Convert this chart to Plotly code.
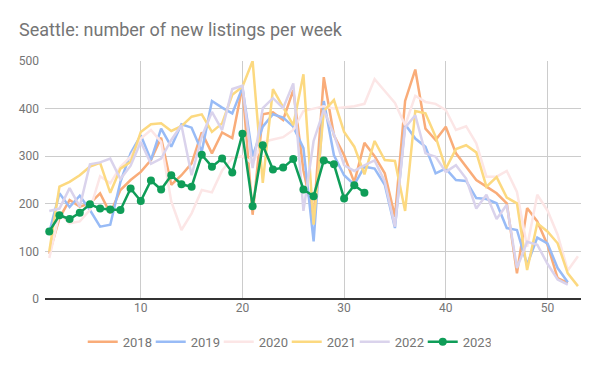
import plotly.graph_objects as go

weeks = list(range(1, 54))

y2018 = [95, 170, 208, 194, 201, 222, 180, 229, 250, 267, 292, 339, 240, 260, 285, 350,
         306, 350, 338, 446, 177, 388, 392, 376, 439, 270, 170, 466, 344, 302, 245, 328,
         300, 264, 173, 416, 482, 358, 334, 362, 306, 278, 250, 236, 222, 201, 54, 191,
         163, 114, 44, 34]
y2019 = [140, 222, 193, 217, 187, 152, 156, 246, 306, 344, 292, 358, 320, 367, 360, 310,
         416, 402, 390, 444, 300, 362, 388, 381, 362, 317, 121, 416, 302, 260, 240, 278,
         274, 240, 149, 367, 337, 320, 264, 274, 250, 248, 212, 210, 201, 149, 145, 72,
         129, 117, 65, 35]
y2020 = [86, 180, 159, 163, 187, 258, 243, 278, 299, 337, 355, 330, 205, 145, 180, 229,
         224, 270, 296, 300, 285, 330, 335, 340, 355, 395, 400, 405, 400, 402, 405, 410,
         462, 437, 412, 365, 427, 414, 410, 397, 355, 363, 327, 257, 257, 269, 225, 110,
         219, 186, 135, 60, 90]
y2021 = [100, 236, 246, 260, 278, 286, 223, 274, 288, 351, 367, 369, 353, 363, 383, 388,
         351, 369, 429, 446, 500, 244, 441, 404, 365, 472, 156, 395, 418, 351, 320, 262,
         332, 292, 290, 185, 395, 390, 341, 274, 315, 323, 308, 236, 256, 213, 201, 61,
         159, 142, 117, 54, 27]
y2022 = [185, 190, 233, 194, 283, 287, 295, 252, 280, 330, 284, 295, 334, 365, 260, 341,
         393, 355, 441, 448, 275, 401, 422, 401, 453, 185, 332, 397, 346, 281, 269, 281,
         291, 247, 152, 360, 386, 306, 299, 267, 281, 253, 190, 219, 168, 198, 65, 120,
         114, 74, 41, 30]
y2023 = [142, 176, 168, 181, 199, 190, 188, 187, 232, 206, 249, 230, 260, 241, 236, 303,
         278, 295, 266, 347, 195, 323, 272, 276, 294, 230, 216, 291, 283, 211, 239, 223]

series = [
    ("2018", y2018, "#F9AC79"),
    ("2019", y2019, "#98BBF6"),
    ("2020", y2020, "#FCE6E6"),
    ("2021", y2021, "#FCD980"),
    ("2022", y2022, "#DAD3EC"),
]

fig = go.Figure()
for name, vals, col in series:
    fig.add_trace(go.Scatter(
        x=weeks[:len(vals)], y=vals, name=name, mode="lines",
        line=dict(color=col, width=2.5),
    ))
fig.add_trace(go.Scatter(
    x=weeks[:len(y2023)], y=y2023, name="2023", mode="lines+markers",
    line=dict(color="#0F9D58", width=2.5),
    marker=dict(color="#0F9D58", size=8),
))

fig.update_layout(
    width=600, height=371,
    margin=dict(l=45, r=19, t=61, b=72, autoexpand=False),
    paper_bgcolor="white", plot_bgcolor="white",
    font=dict(family="Roboto", color="#757575", size=12),
    title=dict(text="Seattle: number of new listings per week",
               x=19 / 600, xanchor="left", y=1 - 30 / 371, yanchor="middle",
               font=dict(size=18, color="#757575", family="Roboto")),
    showlegend=True,
    legend=dict(orientation="h", x=0.451, xanchor="center", y=-0.18, yanchor="middle",
                font=dict(size=13, color="#757575"), entrywidth=23, entrywidthmode="pixels",
                itemwidth=30, tracegroupgap=0),
    xaxis=dict(range=[0.58, 53.3], tickvals=[10, 20, 30, 40, 50],
               showgrid=True, gridcolor="#CCCCCC", gridwidth=1, zeroline=False,
               showline=False, ticks="", tickfont=dict(size=12, color="#757575")),
    yaxis=dict(range=[0, 500], tickvals=[0, 100, 200, 300, 400, 500],
               showgrid=True, gridcolor="#CCCCCC", gridwidth=1,
               zeroline=True, zerolinecolor="#333333", zerolinewidth=1.5,
               ticks="", ticklabelstandoff=5, tickfont=dict(size=12, color="#757575")),
)

fig.write_html("out.html", config={"displayModeBar": False},
               post_script="document.body.style.margin='0';document.body.style.overflow='hidden';")
